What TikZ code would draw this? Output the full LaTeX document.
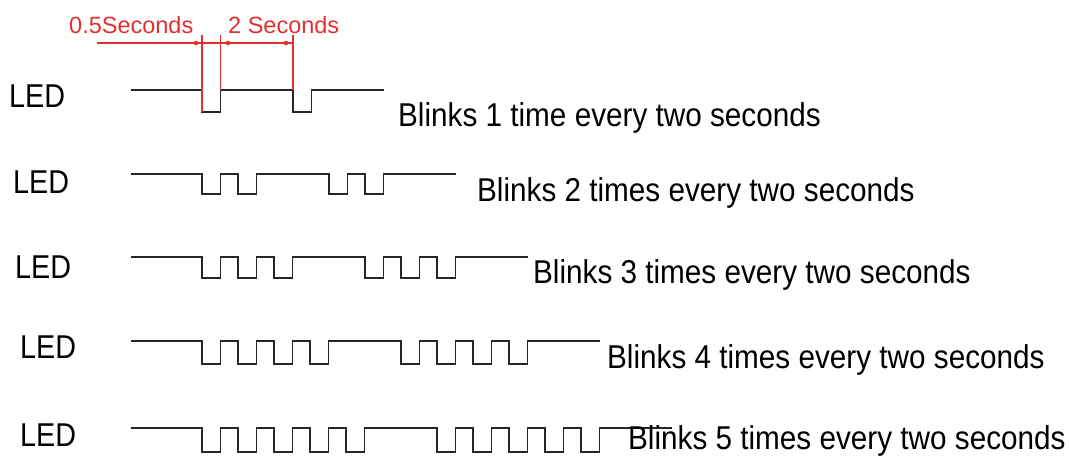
\documentclass[tikz,border=0pt]{standalone}
\usepackage{fontspec}
\setmainfont{Liberation Sans}
\usepackage{tikz}
\definecolor{dimred}{RGB}{226,48,48}
\tikzset{
  signal/.style = {line width=1.7pt, black!85},
  dimline/.style = {line width=1.3pt, dimred},
  ledlabel/.style = {inner sep=0pt, anchor=base west, font=\fontsize{33}{33}\selectfont, xscale=0.87},
  blinktext/.style = {inner sep=0pt, anchor=base west, font=\fontsize{33}{33}\selectfont, xscale=0.9},
  dimtext/.style = {inner sep=0pt, anchor=base west, text=dimred, font=\fontsize{23.5}{23.5}\selectfont}
}

\begin{document}
\begin{tikzpicture}[x=1pt, y=-1pt]
\useasboundingbox (0,0) rectangle (1069,458);

% timing lines: blinks / high level / low level / label positions
\foreach \n/\y/\d/\lx/\lb/\tx/\tb/\word in {1/90/112/9/107/398/126/time,
                                           2/174/194/13/193/477/201/times,
                                           3/257/278/15/278/533/283/times,
                                           4/341/364/20/358/607/368/times,
                                           5/428/452/20/446/628/449/times}
{
	\draw[signal] (131,\y)
		\foreach \g in {0,1} {
			\foreach \k in {1,...,\n} {
				-- ({202+\g*(36*\n+55)+36*(\k-1)},\y) -- ++(0,{\d-\y}) -- ++(18.5,0) -- ++(0,{\y-\d})
			}
		}
		-- ({202+(36*\n+55)+36*(\n-1)+18.5+72},\y);
	\node[ledlabel] (led\n) at (\lx,\lb) {LED};
	\node[blinktext] (blink\n) at (\tx,\tb) {Blinks \n\ \word\ every two seconds};
}

% dimensions of the first row
\foreach \x/\e in {202/112, 220.5/90, 293/90}
	\draw[dimline] (\x,35) -- (\x,\e);
\draw[dimline] (97,43) -- (293,43);
\foreach \x in {196,228,286}
	\fill[dimred] (\x,43) circle (2.3);

\node[dimtext] (halfsec) at (69,33) {0.5Seconds};
\node[dimtext] (twosec) at (228,33) {2 Seconds};
\end{tikzpicture}
\end{document}
